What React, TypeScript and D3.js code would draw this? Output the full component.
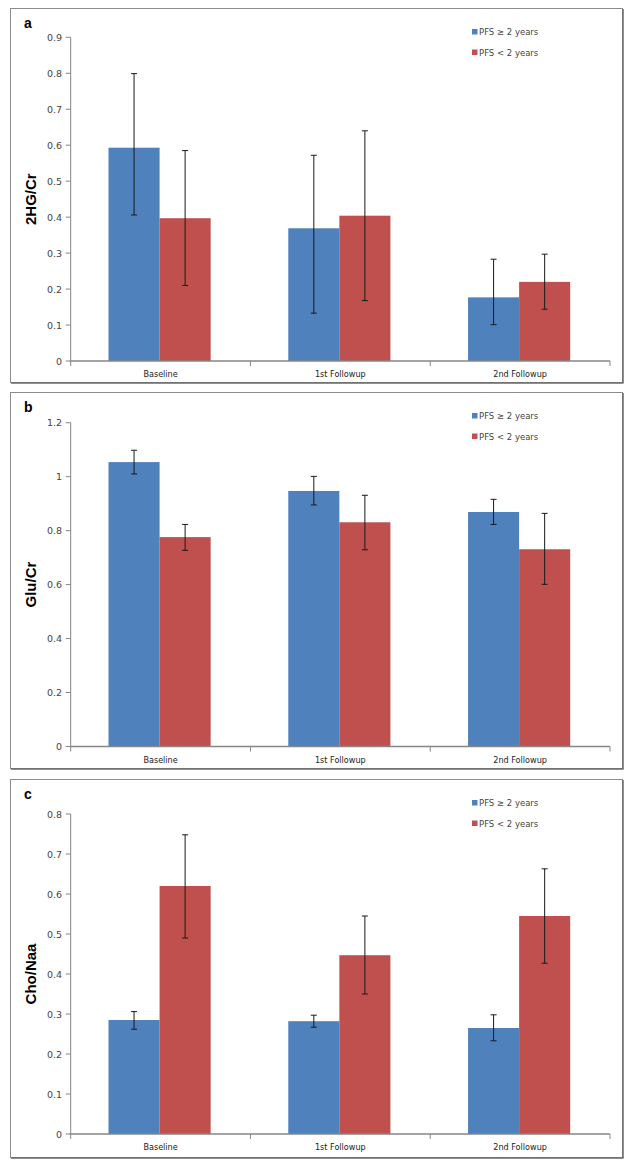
import * as d3 from 'd3';

const categories = ["Baseline", "1st Followup", "2nd Followup"];
const seriesNames = ["PFS ≥ 2 years", "PFS < 2 years"];
const seriesColors = ["#4F81BD", "#C0504D"];

// a: 2HG/Cr
const hgTicks = [0, 0.1, 0.2, 0.3, 0.4, 0.5, 0.6, 0.7, 0.8, 0.9];
const hgLong = [0.593, 0.369, 0.177];
const hgLongLow = [0.406, 0.133, 0.101];
const hgLongHigh = [0.799, 0.572, 0.283];
const hgShort = [0.397, 0.404, 0.220];
const hgShortLow = [0.210, 0.168, 0.144];
const hgShortHigh = [0.585, 0.640, 0.297];

// b: Glu/Cr
const gluTicks = [0, 0.2, 0.4, 0.6, 0.8, 1, 1.2];
const gluLong = [1.054, 0.947, 0.869];
const gluLongLow = [1.010, 0.895, 0.823];
const gluLongHigh = [1.098, 1.001, 0.916];
const gluShort = [0.776, 0.831, 0.731];
const gluShortLow = [0.727, 0.729, 0.601];
const gluShortHigh = [0.823, 0.931, 0.864];

// c: Cho/Naa
const choTicks = [0, 0.1, 0.2, 0.3, 0.4, 0.5, 0.6, 0.7, 0.8];
const choLong = [0.285, 0.282, 0.265];
const choLongLow = [0.262, 0.267, 0.233];
const choLongHigh = [0.306, 0.297, 0.298];
const choShort = [0.620, 0.447, 0.545];
const choShortLow = [0.490, 0.350, 0.427];
const choShortHigh = [0.748, 0.545, 0.663];

const panels = [
  {
    letter: "a", title: "2HG/Cr", ticks: hgTicks,
    values: [hgLong, hgShort], lows: [hgLongLow, hgShortLow], highs: [hgLongHigh, hgShortHigh],
    box: [8, 382], plot: [37.3, 361],
  },
  {
    letter: "b", title: "Glu/Cr", ticks: gluTicks,
    values: [gluLong, gluShort], lows: [gluLongLow, gluShortLow], highs: [gluLongHigh, gluShortHigh],
    box: [392, 768], plot: [422.7, 746.5],
  },
  {
    letter: "c", title: "Cho/Naa", ticks: choTicks,
    values: [choLong, choShort], lows: [choLongLow, choShortLow], highs: [choLongHigh, choShortHigh],
    box: [779, 1157], plot: [814, 1134],
  },
];

const X0 = 70.7;
const X1 = 610;
const AXIS = "#868686";
const TICK_FONT = "'DejaVu Sans', Verdana, sans-serif";

function Panel({ p }: { p: typeof panels[number] }) {
  const [top, bottom] = p.box;
  const [yTop, yZero] = p.plot;
  const max = p.ticks[p.ticks.length - 1];
  const y = d3.scaleLinear().domain([0, max]).range([yZero, yTop]);
  const x = d3.scaleBand().domain(categories).range([X0, X1]);
  const xs = d3.scaleBand<number>().domain([0, 1]).range([0, x.bandwidth()]).paddingOuter(0.76).paddingInner(0);
  const bounds = [X0, ...categories.map(c => (x(c) as number) + x.bandwidth())];
  const fmt = (v: number) => String(+v.toFixed(1));

  return (
    <g>
      <rect x={10.5} y={top + 0.5} width={612} height={bottom - top} fill="#fff" stroke="#8c8c8c" strokeWidth={1} />
      <line x1={623} y1={top + 1} x2={623} y2={bottom + 1} stroke="#6a6a6a" strokeWidth={1.5} />
      <line x1={11} y1={bottom + 1} x2={623.5} y2={bottom + 1} stroke="#6a6a6a" strokeWidth={1.5} />

      <text x={24} y={top + 20} fontFamily="'Liberation Sans', Arial, sans-serif" fontWeight="bold" fontSize={14}>{p.letter}</text>

      {/* y axis */}
      <line x1={X0} y1={yTop} x2={X0} y2={yZero} stroke={AXIS} strokeWidth={1} />
      {p.ticks.map(t => (
        <g key={t}>
          <line x1={X0 - 5} x2={X0} y1={y(t)} y2={y(t)} stroke={AXIS} strokeWidth={1} />
          <text x={62} y={y(t) + 3.5} textAnchor="end" fontFamily={TICK_FONT} fontSize={9.5} fill="#444">{fmt(t)}</text>
        </g>
      ))}
      <text
        transform={`translate(36,${(yTop + yZero) / 2}) rotate(-90)`}
        textAnchor="middle"
        fontFamily="'Liberation Sans', Arial, sans-serif"
        fontWeight="bold"
        fontSize={15}
        fill="#000"
      >{p.title}</text>

      {/* bars */}
      {categories.map((c, i) => (
        <g key={c}>
          {p.values.map((vals, s) => {
            const bx = (x(c) as number) + (xs(s) as number) - 1;
            const bw = xs.bandwidth();
            const cx = bx + bw / 2;
            return (
              <g key={s}>
                <rect x={bx} y={y(vals[i])} width={bw} height={yZero - y(vals[i])} fill={seriesColors[s]} />
                <line x1={cx} x2={cx} y1={y(p.highs[s][i])} y2={y(p.lows[s][i])} stroke="#1a1a1a" strokeWidth={1} />
                <line x1={cx - 3} x2={cx + 3} y1={y(p.highs[s][i])} y2={y(p.highs[s][i])} stroke="#1a1a1a" strokeWidth={1} />
                <line x1={cx - 3} x2={cx + 3} y1={y(p.lows[s][i])} y2={y(p.lows[s][i])} stroke="#1a1a1a" strokeWidth={1} />
              </g>
            );
          })}
        </g>
      ))}

      {/* x axis */}
      <line x1={X0 - 1} x2={X1} y1={yZero} y2={yZero} stroke={AXIS} strokeWidth={1.5} />
      {bounds.map((b, i) => (
        <line key={i} x1={b} x2={b} y1={yZero} y2={yZero + 5} stroke={AXIS} strokeWidth={1} />
      ))}
      {categories.map(c => (
        <text key={c} x={(x(c) as number) + x.bandwidth() / 2} y={yZero + 16} textAnchor="middle"
          fontFamily="'DejaVu Sans Condensed', 'Liberation Sans Narrow', sans-serif" fontSize={9} fill="#222">{c}</text>
      ))}

      {/* legend */}
      {seriesNames.map((n, s) => (
        <g key={n}>
          <rect x={472} y={top + 21 + s * 20.5} width={5.5} height={5.5} fill={seriesColors[s]} />
          <text x={479} y={top + 27 + s * 20.5} fontFamily={TICK_FONT} fontSize={8.5} fill="#444">{n}</text>
        </g>
      ))}
    </g>
  );
}

export default function App() {
  return (
    <div style={{ position: 'absolute', left: 0, top: 0 }}>
      <svg width={635} height={1172} style={{ display: 'block', background: '#fff' }}>
        {panels.map(p => <Panel key={p.letter} p={p} />)}
      </svg>
    </div>
  );
}
